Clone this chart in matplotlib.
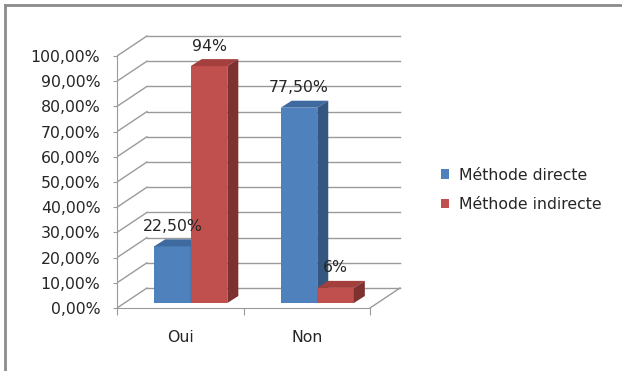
import matplotlib
matplotlib.use("Agg")
import matplotlib.pyplot as plt
from matplotlib.patches import Polygon, Rectangle, Patch
from matplotlib.lines import Line2D

# data
categories = ["Oui", "Non"]
series_names = ["Méthode directe", "Méthode indirecte"]
directe = [22.5, 77.5]
indirecte = [94.0, 6.0]
value_labels = [["22,50%", "77,50%"], ["94%", "6%"]]
yticks = list(range(0, 101, 10))

# styles
face_cols = ["#4F81BD", "#C0504D"]
top_cols = ["#3E6A9F", "#A33F3C"]
side_cols = ["#35577F", "#7D3230"]
grid_col = "#9a9a9a"
txt_col = "#262626"
fs = 11.3

# 3d look: back wall offset and bar depth (in data units)
wall_dx, wall_dy = 0.237, 7.94
bar_dx0, bar_dy0 = 0.083, 1.98
bar_dx, bar_dy = 0.087, 2.78
bar_w = 0.289

fig = plt.figure(figsize=(6.22, 3.71), dpi=100)
ax = fig.add_axes([0.1881, 0.1698, 0.4678, 0.7472])
ax.set_xlim(-0.5, 1.8)
ax.set_ylim(0, 110)
ax.patch.set_alpha(0)

# walls
for v in yticks:
    ax.plot([-0.5, -0.5 + wall_dx], [v, v + wall_dy], color=grid_col, lw=1, zorder=1)
    ax.plot([-0.5 + wall_dx, 1.5 + wall_dx], [v + wall_dy, v + wall_dy], color=grid_col, lw=1, zorder=1)
ax.plot([1.5, 1.5 + wall_dx], [0, wall_dy], color=grid_col, lw=1, zorder=1)

# bars
for s, vals in enumerate([directe, indirecte]):
    for i, v in enumerate(vals):
        x0 = i + (s - 1) * bar_w + bar_dx0
        x1 = x0 + bar_w
        y0 = bar_dy0
        y1 = v + bar_dy0
        ax.add_patch(Rectangle((x0, y0), bar_w, v, fc=face_cols[s], ec="none", zorder=3))
        ax.add_patch(Polygon([(x0, y1), (x1, y1), (x1 + bar_dx, y1 + bar_dy), (x0 + bar_dx, y1 + bar_dy)],
                             closed=True, fc=top_cols[s], ec="none", zorder=3))
        ax.add_patch(Polygon([(x1, y0), (x1 + bar_dx, y0 + bar_dy), (x1 + bar_dx, y1 + bar_dy), (x1, y1)],
                             closed=True, fc=side_cols[s], ec="none", zorder=3))
        ax.annotate(value_labels[s][i], ((x0 + x1) / 2, y1 + bar_dy), xytext=(0, 4),
                    textcoords="offset points", ha="center", va="bottom",
                    fontsize=fs, color=txt_col, zorder=5)

# axes
for sp in ["top", "right"]:
    ax.spines[sp].set_visible(False)
ax.spines["left"].set_bounds(0, 100)
ax.spines["bottom"].set_bounds(-0.5, 1.5)
ax.spines["left"].set_color(grid_col)
ax.spines["bottom"].set_color(grid_col)
ax.set_yticks(yticks)
ax.set_yticklabels(["%d,00%%" % t for t in yticks])
ax.tick_params(axis="y", direction="out", length=3, color=grid_col, pad=9,
               labelsize=fs, labelcolor=txt_col)
ax.set_xticks([-0.5, 0.5, 1.5])
ax.set_xticklabels([])
ax.tick_params(axis="x", which="major", direction="out", length=5, color=grid_col)
ax.set_xticks([0, 1], minor=True)
ax.set_xticklabels(categories, minor=True)
ax.tick_params(axis="x", which="minor", length=0, pad=16, labelsize=fs, labelcolor=txt_col)

# legend
handles = [Patch(fc=c, ec="none") for c in face_cols]
fig.legend(handles, series_names, loc="upper left", bbox_to_anchor=(0.686, 0.586),
           frameon=False, fontsize=fs, handlelength=0.55, handleheight=0.55,
           handletextpad=0.6, labelspacing=0.9, labelcolor=txt_col)

# outer frame
fig.add_artist(Line2D([5 / 622, 1], [1 - 5 / 371, 1 - 5 / 371], color="#8c8c8c", lw=2))
fig.add_artist(Line2D([5 / 622, 5 / 622], [0, 1 - 5 / 371], color="#8c8c8c", lw=2))

fig.savefig("out.png", dpi=100)
